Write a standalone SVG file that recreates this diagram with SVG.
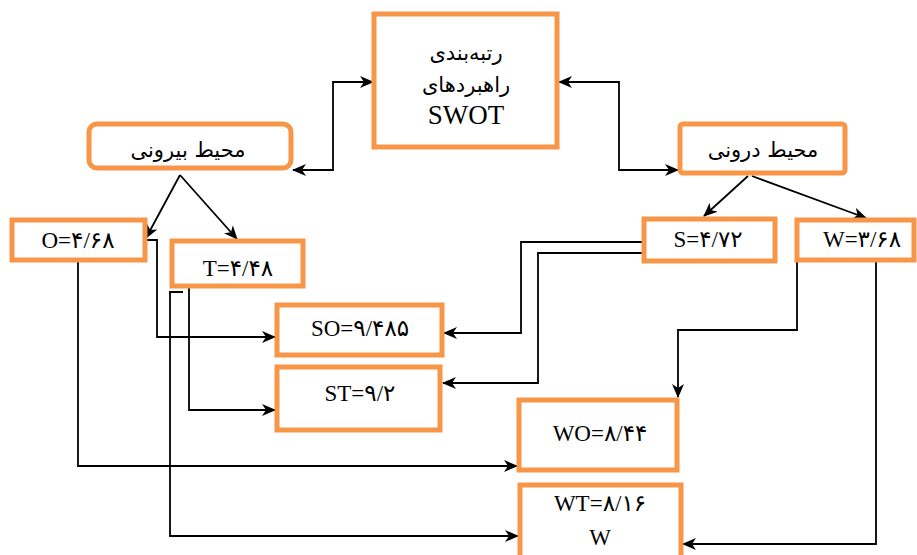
<svg xmlns="http://www.w3.org/2000/svg" width="917" height="555" viewBox="0 0 917 555">
<defs>
<marker id="ah" markerUnits="userSpaceOnUse" markerWidth="14" markerHeight="12" refX="13" refY="6" orient="auto-start-reverse">
<path d="M0,0 L14,6 L0,12 L4,6 z" fill="#000"/>
</marker>
<style>
.box{fill:#fff;stroke:#F79646;stroke-width:5}
.lat{font-family:"Liberation Serif","DejaVu Sans",serif;font-size:23px;fill:#000;text-anchor:middle}
.fa{font-family:"DejaVu Sans","Noto Sans",sans-serif;font-size:21px;fill:#000;text-anchor:middle}
.ca{fill:none;stroke:#000;stroke-width:1.8;marker-end:url(#ah)}
.cb{fill:none;stroke:#000;stroke-width:1.8;marker-end:url(#ah);marker-start:url(#ah)}
</style>
</defs>
<rect width="917" height="555" fill="#fff"/>
<g id="connectors">
<path class="cb" d="M293,170 H333 V82 H373"/>
<path class="cb" d="M559,82 H619 V170 H678"/>
<path class="ca" d="M180,175 L146,238"/>
<path class="ca" d="M180,175 L237,239"/>
<path class="ca" d="M748,176 L704,216"/>
<path class="ca" d="M752,176 L866,218"/>
<path class="ca" d="M147,240 H157 V337 H275"/>
<path class="ca" d="M78,260 V466 H517"/>
<path class="ca" d="M189,287 V410 H275"/>
<path class="ca" d="M183,292 H170 V536 H518"/>
<path class="ca" d="M642,242 H521 V333 H444"/>
<path class="ca" d="M642,253 H538 V383 H443"/>
<path class="ca" d="M797,260 V330 H678 V397"/>
<path class="ca" d="M876,260 V544 H683"/>
</g>
<g id="swot">
<rect class="box" x="374" y="14" width="183" height="133"/>
<text class="fa" x="466" y="60">رتبه‌بندی</text>
<text class="fa" x="466" y="92">راهبردهای</text>
<text class="lat" x="466" y="124" style="font-size:27px">SWOT</text>
</g>
<g id="external">
<rect class="box" x="89" y="124" width="202" height="44" rx="8"/>
<text class="fa" x="188" y="157">محیط بیرونی</text>
</g>
<g id="internal">
<rect class="box" x="680" y="124" width="165" height="49" rx="3"/>
<text class="fa" x="763" y="157">محیط درونی</text>
</g>
<g id="o">
<rect class="box" x="12" y="220" width="133" height="40"/>
<text class="lat" x="78" y="248">O=۴/۶۸</text>
</g>
<g id="t">
<rect class="box" x="172" y="241" width="131" height="45"/>
<text class="lat" x="238" y="276">T=۴/۴۸</text>
</g>
<g id="s">
<rect class="box" x="644" y="219" width="131" height="42"/>
<text class="lat" x="708" y="247">S=۴/۷۲</text>
</g>
<g id="w">
<rect class="box" x="797" y="220" width="117" height="40"/>
<text class="lat" x="862" y="247">W=۳/۶۸</text>
</g>
<g id="so">
<rect class="box" x="277" y="305" width="165" height="50"/>
<text class="lat" x="360" y="336">SO=۹/۴۸۵</text>
</g>
<g id="st">
<rect class="box" x="277" y="367" width="163" height="63"/>
<text class="lat" x="360" y="401">ST=۹/۲</text>
</g>
<g id="wo">
<rect class="box" x="519" y="400" width="158" height="70"/>
<text class="lat" x="600" y="441">WO=۸/۴۴</text>
</g>
<g id="wt">
<rect class="box" x="520" y="485" width="161" height="80"/>
<text class="lat" x="600" y="511">WT=۸/۱۶</text>
<text class="lat" x="600" y="545">W</text>
</g>
</svg>
